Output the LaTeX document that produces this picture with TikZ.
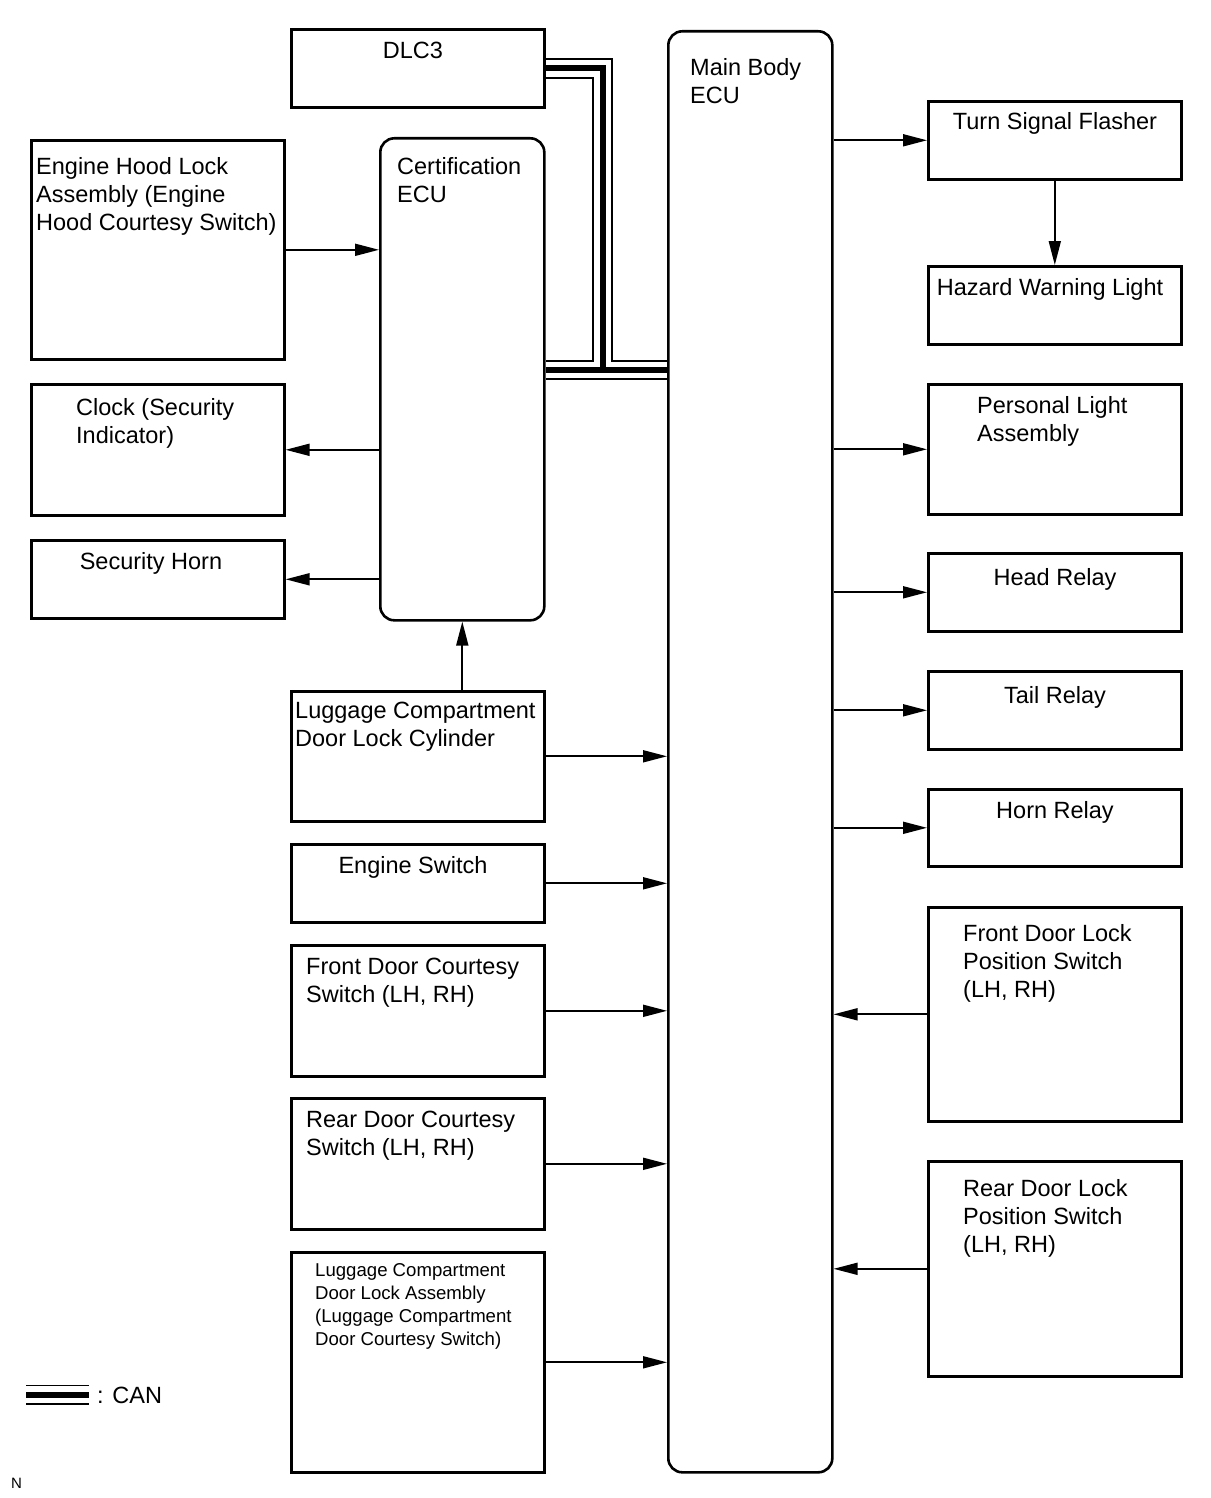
\documentclass[tikz,border=0pt]{standalone}
\usepackage{fontspec}
\setmainfont{Liberation Sans}
\usetikzlibrary{arrows.meta}
\tikzset{
  box/.style={draw, line width=2.6pt, inner sep=0, anchor=north west},
  ecu/.style={box, rounded corners=14pt},
  lbl/.style={font=\fontsize{23.5}{28}\selectfont, inner sep=0, align=left, anchor=base west},
  lblc/.style={lbl, anchor=base, align=center},
  small/.style={font=\fontsize{18.6}{22.7}\selectfont, inner sep=0, align=left, anchor=base west},
  arr/.style={line width=1.8pt, -{Triangle[length=24pt,width=12pt]}},
  canthick/.style={line width=6pt},
  canthin/.style={line width=1.9pt},
}
\newcommand\bx[6][box]{\node[#1, minimum width={#4-#2}, minimum height={#5-#3}] (#6) at (#2,#3) {};}
\begin{document}
\begin{tikzpicture}[x=1pt,y=-1pt]
\useasboundingbox (0,0) rectangle (1210,1498);
% boxes
\bx{290}{28}{543}{106}{dlc}
\bx[ecu]{667}{30}{831}{1471}{main}
\bx[ecu]{379}{137}{543}{619}{cert}
\bx{30}{139}{283}{358}{hood}
\bx{30}{383}{283}{514}{clock}
\bx{30}{539}{283}{617}{shorn}
\bx{290}{690}{543}{820}{lcyl}
\bx{290}{843}{543}{921}{esw}
\bx{290}{944}{543}{1075}{fdc}
\bx{290}{1097}{543}{1228}{rdc}
\bx{290}{1251}{543}{1471}{lasm}
\bx{927}{100}{1180}{178}{tsf}
\bx{927}{265}{1180}{343}{hwl}
\bx{927}{383}{1180}{513}{pla}
\bx{927}{552}{1180}{630}{head}
\bx{927}{670}{1180}{748}{tail}
\bx{927}{788}{1180}{865}{hornr}
\bx{927}{906}{1180}{1120}{fdl}
\bx{927}{1160}{1180}{1375}{rdl}
% labels (base anchor of multi-line nodes = last line)
\node[lblc] (tdlc) at (413,59) {DLC3};
\node[lbl] (tmain) at (690,104) {Main Body\\ECU};
\node[lbl] (tcert) at (397,202) {Certification\\ECU};
\node[lbl] (thood) at (36,230) {Engine Hood Lock\\Assembly (Engine\\Hood Courtesy Switch)};
\node[lbl] (tclock) at (76,443) {Clock (Security\\Indicator)};
\node[lblc] (tshorn) at (151,569) {Security Horn};
\node[lbl] (tlcyl) at (295,746) {Luggage Compartment\\Door Lock Cylinder};
\node[lblc] (tesw) at (413,873) {Engine Switch};
\node[lbl] (tfdc) at (306,1002) {Front Door Courtesy\\Switch (LH, RH)};
\node[lbl] (trdc) at (306,1155) {Rear Door Courtesy\\Switch (LH, RH)};
\node[small] (tlasm) at (315,1345) {Luggage Compartment\\Door Lock Assembly\\(Luggage Compartment\\Door Courtesy Switch)};
\node[lblc] (ttsf) at (1055,130) {Turn Signal Flasher};
\node[lblc] (thwl) at (1050,295) {Hazard Warning Light};
\node[lbl] (tpla) at (977,441) {Personal Light\\Assembly};
\node[lblc] (thead) at (1055,585) {Head Relay};
\node[lblc] (ttail) at (1055,703) {Tail Relay};
\node[lblc] (thornr) at (1055,818) {Horn Relay};
\node[lbl] (tfdl) at (963,997) {Front Door Lock\\Position Switch\\(LH, RH)};
\node[lbl] (trdl) at (963,1252) {Rear Door Lock\\Position Switch\\(LH, RH)};
% arrows right side
\draw[arr] (main.east |- tsf.west) -- (tsf.west);
\draw[arr] (tsf.south) -- (hwl.north);
\draw[arr] (main.east |- pla.west) -- (pla.west);
\draw[arr] (main.east |- head.west) -- (head.west);
\draw[arr] (main.east |- tail.west) -- (tail.west);
\draw[arr] (main.east |- hornr.west) -- (hornr.west);
\draw[arr] (fdl.west) -- (main.east |- fdl.west);
\draw[arr] (rdl.west) -- (main.east |- rdl.west);
% arrows left side
\draw[arr] (hood.east) -- (cert.west |- hood.east);
\draw[arr] (cert.west |- clock.east) -- (clock.east);
\draw[arr] (cert.west |- shorn.east) -- (shorn.east);
\draw[arr] (lcyl.north -| cert.south) -- (cert.south);
\draw[arr] (lcyl.east) -- (main.west |- lcyl.east);
\draw[arr] (esw.east) -- (main.west |- esw.east);
\draw[arr] (fdc.east) -- (main.west |- fdc.east);
\draw[arr] (rdc.east) -- (main.west |- rdc.east);
\draw[arr] (lasm.east) -- (main.west |- lasm.east);
% CAN
\coordinate (cj) at (603,370);
\coordinate (co) at (612,361);
\coordinate (ci) at (593,361);
\coordinate (cb) at (603,379);
\draw[canthick] (dlc.east) -| (cj);
\draw[canthick] (cert.east |- cj) -- (main.west |- cj);
\draw[canthin] ([yshift=9pt]dlc.east) -| (co) -- (main.west |- co);
\draw[canthin] ([yshift=-10pt]dlc.east) -| (ci) -- (cert.east |- ci);
\draw[canthin] (cert.east |- cb) -- (main.west |- cb);
% legend
\coordinate (la) at (26,1395);
\coordinate (lb) at (89,1395);
\draw[canthick] (la) -- (lb);
\draw[canthin] ([yshift=9.5pt]la) -- ([yshift=9.5pt]lb);
\draw[canthin] ([yshift=-9pt]la) -- ([yshift=-9pt]lb);
\node[font=\fontsize{23.5}{28}\selectfont, inner sep=0, anchor=base west] (tcan) at (97,1403) {: CAN};
\node[font=\fontsize{15}{18}\selectfont, inner sep=0, anchor=base west] (tn) at (11,1488) {N};
\end{tikzpicture}
\end{document}
